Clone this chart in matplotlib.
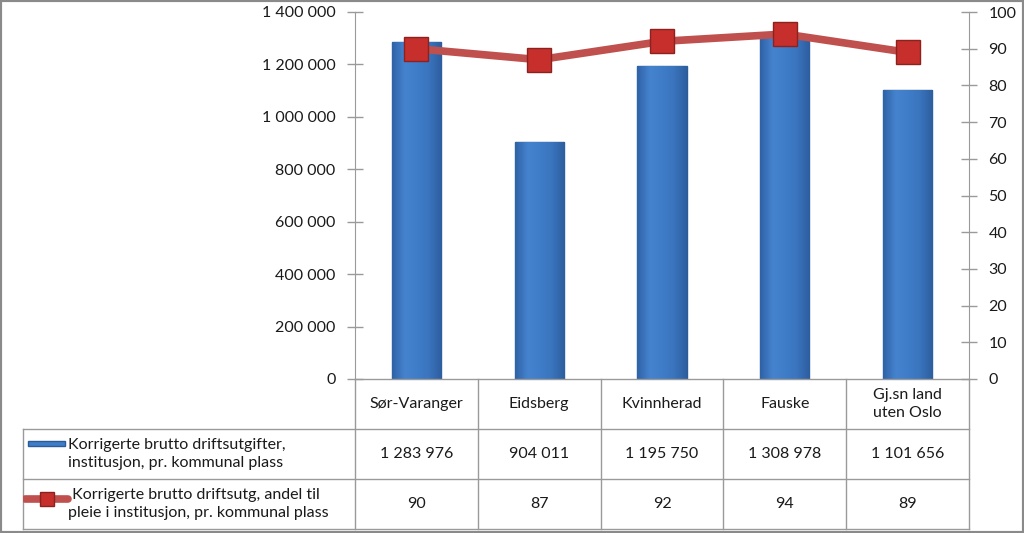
import numpy as np
import matplotlib
matplotlib.use("Agg")
from matplotlib import pyplot as plt
from matplotlib.ticker import FuncFormatter, MultipleLocator
from matplotlib.lines import Line2D
from matplotlib.patches import Rectangle

plt.rcParams['font.family'] = ['Lato', 'DejaVu Sans']

#############################################################
# Data
#############################################################
categories = ["Sør-Varanger", "Eidsberg", "Kvinnherad", "Fauske", "Gj.sn land\nuten Oslo"]
cost = [1283976, 904011, 1195750, 1308978, 1101656]
share = [90, 87, 92, 94, 89]
costLabel = "Korrigerte brutto driftsutgifter,\ninstitusjon, pr. kommunal plass"
shareLabel = " Korrigerte brutto driftsutg, andel til\npleie i institusjon, pr. kommunal plass"

W, H = 1024, 533
GRID = "#9a9a9a"
TXT = "#1a1a1a"
FS = 11.5
LS = 1.45


def fx(px):
    return px / W


def fy(py):
    return 1 - py / H


def spaced(v, pos=None):
    return f"{v:,.0f}".replace(",", " ")


fig = plt.figure(figsize=(W / 100, H / 100), dpi=100)
fig.patches.append(Rectangle((0, 0), 1, 1, transform=fig.transFigure, fill=False,
                             edgecolor="#8a8a8a", lw=3, zorder=10))

#############################################################
# Chart
#############################################################
left, right, top, bottom = 355, 969, 12, 379
ax = fig.add_axes([fx(left), fy(bottom), fx(right - left), (bottom - top) / H])
ax2 = ax.twinx()

x = np.arange(len(categories))
bars = ax.bar(x, cost, width=0.4, color="#3f78c0", edgecolor="#2c5c98", linewidth=1, zorder=2)
cmap = matplotlib.colors.LinearSegmentedColormap.from_list(
    "bl", ["#2f62a6", "#4583cf", "#3f7dc9", "#3a74bd", "#2d5e9f"])
grad = np.linspace(0, 1, 64)[None, :]
for b in bars:
    bx, by = b.get_x(), b.get_y()
    im = ax.imshow(grad, cmap=cmap, aspect="auto", interpolation="bilinear",
                   extent=(bx, bx + b.get_width(), by, by + b.get_height()), zorder=2.1)
    im.set_clip_path(b)

ax2.plot(x, share, color="#c0504d", lw=5.5, zorder=3, solid_capstyle="butt")
ax2.plot(x, share, ls="none", marker="s", ms=17, mfc="#c62f2b", mec="#8c2220", mew=1, zorder=4)

ax.set_xlim(-0.5, len(categories) - 0.5)
ax.set_ylim(0, 1400000)
ax2.set_ylim(0, 100)
ax.yaxis.set_major_locator(MultipleLocator(200000))
ax.yaxis.set_major_formatter(FuncFormatter(spaced))
ax2.yaxis.set_major_locator(MultipleLocator(10))
ax.set_xticks([])
for a in (ax, ax2):
    for s in a.spines.values():
        s.set_visible(False)
    a.tick_params(axis="y", direction="inout", length=12, width=1, color=GRID,
                  labelsize=FS, labelcolor=TXT, pad=8)
ax.spines["left"].set_visible(True)
ax.spines["left"].set_color(GRID)
ax2.spines["right"].set_visible(True)
ax2.spines["right"].set_color(GRID)
ax.set_facecolor("none")

#############################################################
# Data table
#############################################################
tl, tb = 23, 529
tab = fig.add_axes([fx(tl), fy(tb), fx(right - tl), (tb - bottom) / H])
scale = (right - left) / len(categories)
tab.set_xlim(-0.5 - (left - tl) / scale, len(categories) - 0.5)
tab.set_ylim(0, 3)
tab.axis("off")
x0 = tab.get_xlim()[0]
xe = len(categories) - 0.5
tab.plot([-0.5, xe], [3, 3], color=GRID, lw=1, clip_on=False)
for yy in (2, 1, 0):
    tab.plot([x0, xe], [yy, yy], color=GRID, lw=1, clip_on=False)
tab.plot([x0, x0], [0, 2], color=GRID, lw=1, clip_on=False)
for i in range(len(categories) + 1):
    tab.plot([i - 0.5, i - 0.5], [0, 3], color=GRID, lw=1, clip_on=False)

for i, c in enumerate(categories):
    tab.text(i, 2.5, c, ha="center", va="center", fontsize=FS, color=TXT, linespacing=1.3)
    tab.text(i, 1.5, spaced(cost[i]), ha="center", va="center", fontsize=FS, color=TXT)
    tab.text(i, 0.5, str(share[i]), ha="center", va="center", fontsize=FS, color=TXT)

tab.add_patch(Rectangle((x0 + 5 / scale, 1.66), 37 / scale, 0.1,
                        facecolor="#3f7dc9", edgecolor="#2c5c98", lw=1))
tab.text(x0 + 45 / scale, 1.5, costLabel, ha="left", va="center", fontsize=FS,
         color=TXT, linespacing=LS)
tab.add_line(Line2D([x0 + 2 / scale, x0 + 45 / scale], [0.6, 0.6], color="#c0504d", lw=5.5,
                    solid_capstyle="round"))
tab.add_line(Line2D([x0 + 24 / scale], [0.6], marker="s", ms=10, mfc="#c62f2b", mec="#8c2220"))
tab.text(x0 + 45 / scale, 0.5, shareLabel, ha="left", va="center", fontsize=FS,
         color=TXT, linespacing=LS)

fig.savefig("out.png", dpi=100)
